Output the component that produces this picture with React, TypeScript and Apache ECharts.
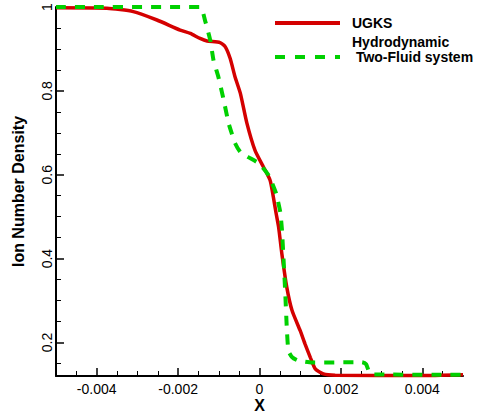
import React, { useEffect, useRef } from "react";
import * as echarts from "echarts";

// UGKS (red solid)
const ugksX = [
  -0.005, -0.00375, -0.0031, -0.00252, -0.00195, -0.0017, -0.00146, -0.00129, -0.00097, -0.00084,
  -0.00072, -0.0006, -0.00047, -0.00031, -0.00011, 0.0001, 0.00026, 0.00034, 0.00041, 0.00047,
  0.00055, 0.00067, 0.0008, 0.001, 0.00112, 0.00125, 0.00137, 0.00157, 0.00186, 0.00395, 0.005,
];
const ugksY = [
  0.998, 0.997, 0.989, 0.969, 0.945, 0.937, 0.925, 0.919, 0.915, 0.905,
  0.877, 0.833, 0.794, 0.723, 0.658, 0.618, 0.587, 0.547, 0.507, 0.475,
  0.411, 0.332, 0.276, 0.228, 0.196, 0.164, 0.137, 0.125, 0.122, 0.121, 0.123,
];

// Hydrodynamic Two-Fluid system (green dashed)
const twoFluidX = [
  -0.005, -0.00146, -0.00133, -0.00121, -0.00113, -0.00101, -0.00088, -0.00076, -0.00068, -0.0006,
  -0.00047, -0.00028, -0.00006, 0.00007, 0.00022, 0.00031, 0.00041, 0.00051, 0.00055, 0.00059,
  0.00063, 0.00067, 0.00071, 0.0008, 0.00092, 0.00112, 0.00129, 0.00252, 0.00262, 0.00268,
  0.00274, 0.005,
];
const twoFluidY = [
  1.0, 1.0, 0.965, 0.921, 0.873, 0.833, 0.778, 0.723, 0.698, 0.675,
  0.654, 0.642, 0.63, 0.618, 0.599, 0.58, 0.555, 0.511, 0.471, 0.4,
  0.324, 0.236, 0.18, 0.165, 0.158, 0.154, 0.152, 0.153, 0.148, 0.133,
  0.124, 0.123,
];

const xMajorTicks = [-0.004, -0.002, 0, 0.002, 0.004];
const xMinorTicks = [
  -0.0045, -0.0035, -0.003, -0.0025, -0.0015, -0.001, -0.0005,
  0.0005, 0.001, 0.0015, 0.0025, 0.003, 0.0035, 0.0045,
];
const yMajorTicks = [0.2, 0.4, 0.6, 0.8, 1];
const yMinorTicks = [0.15, 0.25, 0.3, 0.35, 0.45, 0.5, 0.55, 0.65, 0.7, 0.75, 0.85, 0.9, 0.95];

const seriesNames = ["UGKS", "Hydrodynamic\n Two-Fluid system"];
const RED = "#d40000";
const GREEN = "#00d000";
const FONT = "'Liberation Sans', Arial, Helvetica, sans-serif";

export default function App() {
  const ref = useRef<HTMLDivElement>(null);
  useEffect(() => {
    if (!ref.current) return;
    const chart = echarts.init(ref.current, null, { renderer: "svg" });
    const zip = (xs: number[], ys: number[]) => xs.map((x, i) => [x, ys[i]]);
    chart.setOption({
      animation: false,
      backgroundColor: "#fff",
      textStyle: { fontFamily: FONT },
      grid: { left: 56, right: 15, top: 7, bottom: 41, containLabel: false, outerBoundsMode: "none" },
      xAxis: [
        {
          type: "value",
          min: -0.005,
          max: 0.005,
          position: "bottom",
          splitLine: { show: false },
          axisLine: { show: true, onZero: false, lineStyle: { color: "#000", width: 2 } },
          axisTick: { show: true, inside: true, length: 8, customValues: xMajorTicks, lineStyle: { color: "#000", width: 1.5 } },
          axisLabel: {
            customValues: xMajorTicks,
            formatter: (v: number) => (v === 0 ? "0" : v.toFixed(3)),
            fontSize: 14,
            color: "#000",
            margin: 6,
            fontFamily: FONT,
          },
          name: "X",
          nameLocation: "middle",
          nameGap: 21,
          nameMoveOverlap: false,
          nameTextStyle: { fontWeight: "bold", fontSize: 16, color: "#000", fontFamily: FONT },
        },
        {
          type: "value",
          min: -0.005,
          max: 0.005,
          position: "bottom",
          splitLine: { show: false },
          axisLine: { show: false, onZero: false },
          axisTick: { show: true, inside: true, length: 5, customValues: xMinorTicks, lineStyle: { color: "#000", width: 1 } },
          axisLabel: { show: false },
        },
      ],
      yAxis: [
        {
          type: "value",
          min: 0.12,
          max: 1,
          position: "left",
          splitLine: { show: false },
          axisLine: { show: true, onZero: false, lineStyle: { color: "#000", width: 2 } },
          axisTick: { show: true, inside: true, length: 8, customValues: yMajorTicks, lineStyle: { color: "#000", width: 1.5 } },
          axisLabel: {
            customValues: yMajorTicks,
            formatter: (v: number) => (v === 1 ? "1" : v.toFixed(1)),
            fontSize: 14,
            color: "#000",
            rotate: 90,
            margin: 2,
            fontFamily: FONT,
          },
          name: "Ion Number Density",
          nameLocation: "middle",
          nameGap: 30,
          nameMoveOverlap: false,
          nameTextStyle: { fontWeight: "bold", fontSize: 16, color: "#000", fontFamily: FONT },
        },
        {
          type: "value",
          min: 0.12,
          max: 1,
          position: "left",
          splitLine: { show: false },
          axisLine: { show: false, onZero: false },
          axisTick: { show: true, inside: true, length: 5, customValues: yMinorTicks, lineStyle: { color: "#000", width: 1 } },
          axisLabel: { show: false },
        },
      ],
      series: [
        {
          name: seriesNames[0],
          type: "line",
          data: zip(ugksX, ugksY),
          showSymbol: false,
          smooth: 0.2,
          clip: false,
          lineStyle: { color: RED, width: 3.5 },
          itemStyle: { color: RED },
          z: 2,
        },
        {
          name: seriesNames[1],
          type: "line",
          data: zip(twoFluidX, twoFluidY),
          showSymbol: false,
          smooth: 0.15,
          clip: false,
          lineStyle: { color: GREEN, width: 4, type: [10, 9] },
          itemStyle: { color: GREEN },
          z: 3,
        },
      ],
      graphic: [
        {
          type: "line",
          shape: { x1: 275, y1: 23, x2: 340, y2: 23 },
          style: { stroke: RED, lineWidth: 4 },
          z: 10,
        },
        {
          type: "text",
          x: 352,
          y: 23,
          style: { text: "UGKS", font: `bold 14px ${FONT}`, fill: "#000", textVerticalAlign: "middle" },
          z: 10,
        },
        {
          type: "line",
          shape: { x1: 275, y1: 57, x2: 340, y2: 57 },
          style: { stroke: GREEN, lineWidth: 4, lineDash: [10, 10] },
          z: 10,
        },
        {
          type: "text",
          x: 352,
          y: 41.5,
          style: { text: "Hydrodynamic", font: `bold 14px ${FONT}`, fill: "#000", textVerticalAlign: "middle" },
          z: 10,
        },
        {
          type: "text",
          x: 352,
          y: 57,
          style: { text: " Two-Fluid system", font: `bold 14px ${FONT}`, fill: "#000", textVerticalAlign: "middle" },
          z: 10,
        },
      ],
    });
    return () => chart.dispose();
  }, []);
  return (
    <div
      ref={ref}
      style={{ position: "fixed", left: 0, top: 0, width: 478, height: 417, background: "#fff" }}
    />
  );
}
